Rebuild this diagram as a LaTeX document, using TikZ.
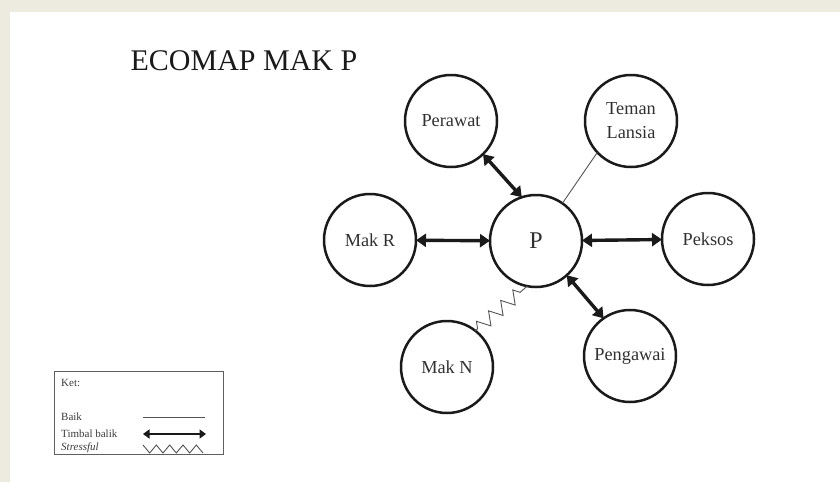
\documentclass[tikz,border=0pt]{standalone}
\usepackage{fontspec}
\setmainfont{Liberation Serif}
\usetikzlibrary{arrows.meta,decorations.pathmorphing}
\definecolor{pagebg}{HTML}{EDEAE0}
\definecolor{ink}{HTML}{1A1A1A}
\begin{document}
\begin{tikzpicture}[x=1pt,y=-1pt,
  person/.style={circle,draw=ink,line width=2.5pt,minimum size=92pt,inner sep=0pt,
    outer sep=0pt,font=\fontsize{18.3}{24}\selectfont,text=ink!90,align=center},
  mutual/.style={line width=3.4pt,draw=ink,
    {Triangle[length=10pt,width=13pt]}-{Triangle[length=10pt,width=13pt]}},
  good/.style={line width=0.9pt,draw=ink!75},
  stress/.style={line width=0.9pt,draw=ink!75,decorate,
    decoration={zigzag,segment length=16pt,amplitude=6.5pt,pre length=3pt,post length=3pt}},
  keytext/.style={anchor=west,inner sep=0pt,text=ink!85,font=\fontsize{11}{13}\selectfont},
]
% page and margins
\fill[pagebg] (0,0) rectangle (840,482);
\fill[white] (10,12) rectangle (840,482);
\useasboundingbox (0,0) rectangle (840,482);

% title
\node[anchor=base,inner sep=0pt,text=ink,font=\fontsize{30}{34}\selectfont] (title) at (244,70) {ECOMAP MAK P};

% people
\node[person,font=\fontsize{24}{28}\selectfont] (p) at (536,241) {P};
\node[person] (per)  at (451,121) {Perawat};
\node[person] (tl)   at (631,121) {Teman\\Lansia};
\node[person] (makr) at (370,240) {Mak R};
\node[person] (pek)  at (708,239) {Peksos};
\node[person] (makn) at (447,367) {Mak N};
\node[person] (pen)  at (630,356) {Pengawai};

% relations
\draw[mutual] (per.-46) -- (p.108);
\draw[mutual] (makr) -- (p);
\draw[mutual] (p) -- (pek);
\draw[mutual] (p.-48) -- (pen.125);
\draw[good] (p.55) -- (tl.223);
\draw[stress] (makn.52) -- (p.259);

% legend
\node[draw=ink!70,line width=1pt,minimum width=169pt,minimum height=83pt,inner sep=0pt]
  (key) at (138.5,412.5) {};
\node[keytext] (ket) at (61,383) {Ket:};
\node[keytext] (kbaik) at (61,417) {Baik};
\node[keytext] (ktimbal) at (61,434) {Timbal balik};
\node[keytext,font=\fontsize{11}{13}\selectfont\itshape] (kstress) at (61,448) {Stressful};
\coordinate (b1) at (143,417);
\coordinate (b2) at (205,417);
\coordinate (t1) at (143,434);
\coordinate (t2) at (206,434);
\draw[good] (b1) -- (b2);
\draw[line width=2.2pt,draw=ink,
  {Triangle[length=6.5pt,width=9pt]}-{Triangle[length=6.5pt,width=9pt]}] (t1) -- (t2);
\draw[good,line join=miter] (143,445) -- (149.7,453) -- (156.3,445) -- (163,453)
  -- (169.7,445) -- (176.3,453) -- (183,445) -- (189.7,453) -- (196.3,445) -- (203,453);
\end{tikzpicture}
\end{document}
